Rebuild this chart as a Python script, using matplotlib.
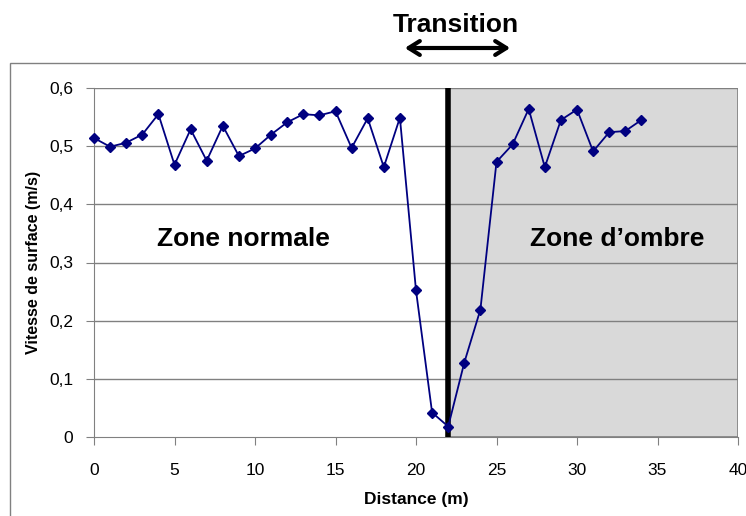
import matplotlib
matplotlib.use("Agg")
import matplotlib.pyplot as plt
from matplotlib.patches import Rectangle, FancyArrowPatch
from matplotlib.ticker import FuncFormatter

# données
distance = list(range(0, 35))
vitesse = [0.514, 0.499, 0.506, 0.520, 0.555, 0.468, 0.529, 0.475, 0.535, 0.483,
           0.496, 0.520, 0.541, 0.555, 0.553, 0.560, 0.497, 0.548, 0.464, 0.549,
           0.252, 0.042, 0.018, 0.128, 0.219, 0.473, 0.503, 0.564, 0.464, 0.545,
           0.563, 0.491, 0.524, 0.526, 0.545]
x_transition = 22
x_ticks = [0, 5, 10, 15, 20, 25, 30, 35, 40]
y_ticks = [0, 0.1, 0.2, 0.3, 0.4, 0.5, 0.6]

plt.rcParams["font.family"] = ["Liberation Sans", "DejaVu Sans"]

fig = plt.figure(figsize=(7.46, 5.16), dpi=100)
# cadre extérieur du graphique (bords gauche et haut visibles)
fig.patches.append(Rectangle((10 / 746, -0.1), 1.2, (516 - 63) / 516 + 0.1,
                             transform=fig.transFigure, fill=False,
                             edgecolor="#808080", lw=1))

ax = fig.add_axes([94 / 746, 79 / 516, 644 / 746, 349 / 516])
ax.set_xlim(0, 40)
ax.set_ylim(0, 0.6)

# zone d'ombre
ax.add_patch(Rectangle((x_transition, 0), 40 - x_transition, 0.6,
                       facecolor="#d9d9d9", edgecolor="#808080", lw=1.2, zorder=1))
ax.set_yticks(y_ticks)
ax.set_xticks(x_ticks)
for yv in y_ticks[1:]:
    ax.axhline(yv, color="#808080", lw=1, zorder=2)
ax.plot([x_transition, x_transition], [0, 0.6], color="black", lw=4, zorder=3)

ax.plot(distance, vitesse, color="#000080", lw=1.3, marker="D", markersize=5,
        zorder=4, clip_on=False)

for s in ["top", "right"]:
    ax.spines[s].set_visible(False)
for s in ["left", "bottom"]:
    ax.spines[s].set_color("#808080")
ax.tick_params(direction="out", length=6, color="#808080", labelsize=12.5)
ax.tick_params(axis="x", pad=13)
ax.tick_params(axis="y", pad=9)
fmt = FuncFormatter(lambda v, p: ("%g" % round(v, 1)).replace(".", ","))
ax.yaxis.set_major_formatter(fmt)

ax.set_xlabel("Distance (m)", fontsize=12.5, fontweight="bold", labelpad=10)
ax.set_ylabel("Vitesse de surface (m/s)", fontsize=11.5, fontweight="bold", labelpad=6)

ax.text(9.3, 0.34, "Zone normale", fontsize=19, fontweight="bold", ha="center", va="center")
ax.text(32.5, 0.34, "Zone d\u2019ombre", fontsize=19, fontweight="bold", ha="center", va="center")

fig.text(456 / 746, 1 - 25 / 516, "Transition", fontsize=19, fontweight="bold",
         ha="center", va="center")
fig.patches.append(FancyArrowPatch(
    (402 / 746, 1 - 48 / 516), (513 / 746, 1 - 48 / 516), transform=fig.transFigure,
    arrowstyle="<->,head_length=8,head_width=5", lw=3, color="black"))

fig.savefig("out.png", dpi=100)
